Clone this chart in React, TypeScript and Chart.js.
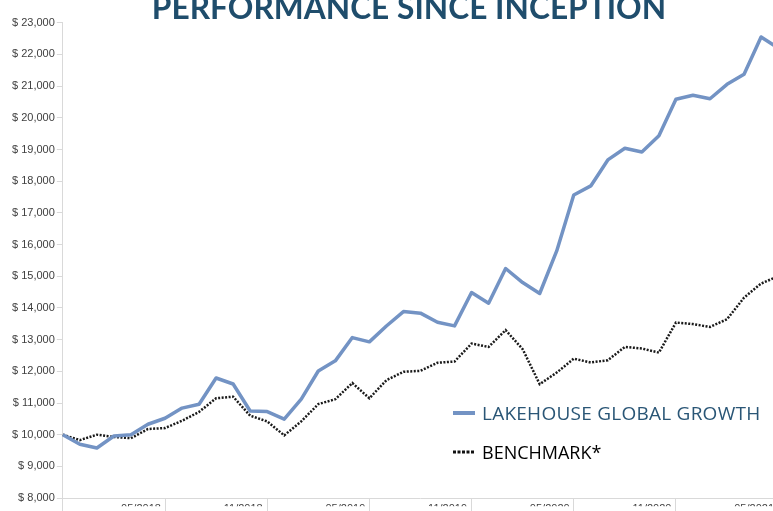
import React, { useEffect, useRef } from 'react';
import { Chart, registerables } from 'chart.js';

Chart.register(...registerables);

const TITLE = 'PERFORMANCE SINCE INCEPTION';
const SERIES_NAMES = ['LAKEHOUSE GLOBAL GROWTH', 'BENCHMARK*'];

const months = [
  '11/2017', '12/2017', '01/2018', '02/2018', '03/2018', '04/2018', '05/2018', '06/2018', '07/2018', '08/2018',
  '09/2018', '10/2018', '11/2018', '12/2018', '01/2019', '02/2019', '03/2019', '04/2019', '05/2019', '06/2019',
  '07/2019', '08/2019', '09/2019', '10/2019', '11/2019', '12/2019', '01/2020', '02/2020', '03/2020', '04/2020',
  '05/2020', '06/2020', '07/2020', '08/2020', '09/2020', '10/2020', '11/2020', '12/2020', '01/2021', '02/2021',
  '03/2021', '04/2021', '05/2021',
];

const xTickLabels = ['05/2018', '11/2018', '05/2019', '11/2019', '05/2020', '11/2020', '05/2021'];

const growth = [
  10000, 9700, 9580, 9960, 10000, 10330, 10520, 10840, 10960, 11790,
  11600, 10750, 10730, 10490, 11120, 12010, 12330, 13065, 12930, 13430,
  13885, 13835, 13550, 13434, 14485, 14150, 15245, 14800, 14455, 15800,
  17565, 17850, 18670, 19040, 18920, 19430, 20585, 20710, 20600, 21055,
  21375, 22550, 22200,
];

const benchmark = [
  10000, 9830, 10000, 9930, 9890, 10180, 10210, 10440, 10720, 11150,
  11200, 10600, 10420, 9980, 10420, 10965, 11120, 11630, 11150, 11720,
  11985, 12015, 12270, 12310, 12875, 12770, 13300, 12700, 11595, 11960,
  12400, 12280, 12350, 12770, 12720, 12590, 13540, 13490, 13400, 13645,
  14325, 14770, 15000,
];

const yMin = 8000;
const yMax = 23000;
const yStep = 1000;

const BLUE = '#7393c4';
const DARK = '#1f4d6c';
const AXIS_GRAY = '#d9d9d9';
const LABEL_GRAY = '#404040';

const overlayPlugin = {
  id: 'overlay',
  afterDraw(chart: any) {
    const ctx = chart.ctx;
    ctx.save();
    // Title (partially cut at the top, as in the reference)
    ctx.font = '700 31.7px Lato';
    ctx.fillStyle = DARK;
    ctx.textAlign = 'center';
    ctx.textBaseline = 'alphabetic';
    ctx.fillText(TITLE, 409, 19);

    // Legend
    ctx.lineCap = 'butt';
    ctx.strokeStyle = BLUE;
    ctx.lineWidth = 4;
    ctx.beginPath();
    ctx.moveTo(453, 413);
    ctx.lineTo(475, 413);
    ctx.stroke();

    ctx.textAlign = 'left';
    ctx.font = '19px "Open Sans"';
    ctx.fillStyle = '#2a5676';
    (ctx as any).letterSpacing = '0.25px';
    ctx.fillText(SERIES_NAMES[0], 482, 419.5);
    (ctx as any).letterSpacing = '0px';

    ctx.strokeStyle = '#111111';
    ctx.lineWidth = 3;
    ctx.setLineDash([3, 1.5]);
    ctx.beginPath();
    ctx.moveTo(453, 452);
    ctx.lineTo(474, 452);
    ctx.stroke();
    ctx.setLineDash([]);

    ctx.font = '18px "Open Sans"';
    ctx.fillStyle = '#000000';
    ctx.fillText(SERIES_NAMES[1], 482, 459);
    ctx.restore();
  },
};

export default function App() {
  const ref = useRef<HTMLCanvasElement | null>(null);

  useEffect(() => {
    if (!ref.current) return;
    const tickFont = { family: '"Liberation Sans", Arial, sans-serif', size: 11 };
    const chart = new Chart(ref.current, {
      type: 'line',
      data: {
        labels: months,
        datasets: [
          {
            label: SERIES_NAMES[0],
            data: growth,
            borderColor: BLUE,
            borderWidth: 3.5,
            pointRadius: 0,
            tension: 0,
            borderJoinStyle: 'round',
            fill: false,
          },
          {
            label: SERIES_NAMES[1],
            data: benchmark,
            borderColor: '#1a1a1a',
            borderWidth: 2.5,
            borderDash: [2, 1.5],
            pointRadius: 0,
            tension: 0,
            fill: false,
          },
        ],
      },
      options: {
        responsive: false,
        animation: false,
        devicePixelRatio: 1,
        layout: { padding: { top: 22.7, left: 10, right: 0, bottom: 23.7 } },
        plugins: {
          legend: { display: false },
          tooltip: { enabled: false },
          title: { display: false },
        },
        scales: {
          x: {
            type: 'category',
            offset: false,
            grid: {
              display: true,
              drawOnChartArea: false,
              drawTicks: true,
              tickLength: 13,
              color: AXIS_GRAY,
            },
            border: { display: true, color: AXIS_GRAY },
            ticks: {
              autoSkip: false,
              maxRotation: 0,
              minRotation: 0,
              padding: -9,
              labelOffset: -24,
              color: LABEL_GRAY,
              font: tickFont,
              callback: (_v: any, index: number) => {
                if (index === 0) return '';
                const lab = months[index];
                return xTickLabels.includes(lab) ? lab : null;
              },
            },
          },
          y: {
            min: yMin,
            max: yMax,
            grid: {
              display: true,
              drawOnChartArea: false,
              drawTicks: true,
              tickLength: 6,
              color: AXIS_GRAY,
            },
            border: { display: true, color: AXIS_GRAY },
            ticks: {
              stepSize: yStep,
              padding: 2,
              color: LABEL_GRAY,
              font: tickFont,
              callback: (v: any) => '$ ' + Number(v).toLocaleString('en-US'),
            },
          },
        },
      },
      plugins: [overlayPlugin],
    });
    return () => chart.destroy();
  }, []);

  return (
    <div
      style={{
        position: 'fixed',
        left: 0,
        top: 0,
        width: 773,
        height: 511,
        overflow: 'hidden',
        background: '#ffffff',
      }}
    >
      <canvas ref={ref} width={789} height={530} style={{ display: 'block' }} />
    </div>
  );
}
